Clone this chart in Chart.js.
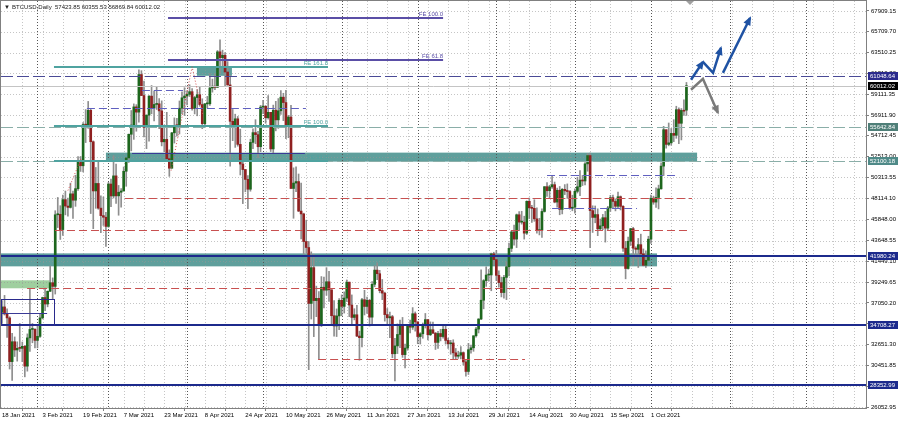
<!DOCTYPE html>
<html>
<head>
<meta charset="utf-8">
<script src="https://cdn.jsdelivr.net/npm/chart.js@4.4.1/dist/chart.umd.min.js"></script>
<style>
  html, body { margin: 0; padding: 0; background: #fff; }
  #wrap { width: 900px; height: 422px; position: relative; }
</style>
</head>
<body>
<div id="wrap"><canvas id="btc"></canvas></div>
<script>
// BTCUSD daily candles, 18 Jan 2021 .. 15 Oct 2021 (one per day)
const opens = [
  36070,36630,35890,35470,30850,32950,32080,32260,32250,32470,30370,33360,34250,34260,
  33090,33520,35470,37620,36940,38290,39190,38800,46370,46420,44810,47970,47290,47150,48580,47910,49130,52120,51550,55910,55840,57410,54090,48890,49680,47070,46280,46110,
  45140,49620,48360,50480,48370,48750,48880,50970,52380,54880,55850,57770,57220,61190,58970,55610,56900,58910,57650,58030,58100,57350,54080,54340,52300,51290,55030,55820,55780,57630,58730,
  58920,59100,59380,57600,58760,59060,58020,56000,58090,58100,59770,59960,59840,63590,62970,63230,61460,60090,56250,55700,56510,53810,51730,51150,50110,49070,54020,55050,54840,53560,
  57750,57830,56630,57200,53330,57420,56400,57360,58800,58230,55860,56700,49150,49720,49880,46760,46460,43540,42910,37000,40780,37300,37540,34770,38710,38400,39290,38440,35700,34620,35680,
  37330,36690,37570,39250,36830,35520,35800,33550,33380,37390,36680,37330,35550,39020,40520,40140,38350,38090,35820,35480,35600,31680,32510,33720,34660,31590,32280,34700,34490,35910,
  35050,33500,33790,34670,35290,33690,34220,33860,32880,33820,33500,34260,33090,32730,32820,31780,31420,31530,31800,30820,29810,32110,32310,33580,34290,35350,37340,39410,40000,40010,42240,
  41630,39970,39200,38150,39750,40870,42820,44560,43800,46370,45590,45590,44430,47790,47100,47050,45940,44690,44740,46720,49340,48910,49320,49550,47710,48960,46940,49060,48900,48830,47050,
  47170,48850,49330,50030,49940,51750,52630,46810,46090,46390,44880,45200,46060,44960,47090,48180,47780,47270,48280,47260,42840,40690,43570,44900,42840,42720,43210,42240,41030,41560,
  43790,48120,47710,48200,49110,51510,55360,53810,53970,54970,54770,57480,56040,57400,57423.85
];
const highs = [
  37300,37850,36420,35600,33830,33460,32940,34880,32920,32560,33780,38530,34880,34340,
  34720,35900,37660,38620,38310,40950,39700,46800,48200,47330,48460,48880,48140,49710,48880,50550,52530,52530,56110,57490,58350,57530,54180,51370,52040,48370,48250,46620,
  49790,50130,52620,51740,49470,49150,51420,52390,54900,57390,58090,58010,61680,61600,60490,56930,58960,60030,59450,59860,58640,58410,55850,57200,53230,55070,56610,56560,58400,59370,59800,
  59460,60110,59700,58900,59590,59900,58630,58150,58880,61260,60710,61260,63730,64860,63770,63520,62560,61100,57500,57000,56760,55410,52130,51170,50510,54360,55440,56420,55190,57930,
  58460,57920,58970,57200,57960,58360,58650,59500,59210,59530,56880,57940,51330,51440,50680,49720,46540,45800,43550,42450,42200,38830,38250,39840,39780,40780,40400,38440,37300,36420,37500,
  37900,38220,39480,39250,37900,36440,36790,34070,37530,38390,37680,37440,39320,41000,41300,40500,39530,38190,36460,36080,35740,33300,34840,35230,35520,32700,34700,35230,36560,36100,
  35050,33910,34930,35940,35300,35050,35020,33930,34060,34260,34590,34650,33340,33100,33160,32240,31950,32430,31880,31030,32780,32590,33580,34480,35390,40550,39520,40870,40590,42320,42410,
  42600,40440,39780,39960,41400,43370,44700,45290,46450,46700,46740,46220,47850,48140,47370,47960,47110,46000,47000,49340,49770,49490,50480,49830,49200,49360,49150,49560,49630,48920,48440,
  49120,50340,51030,50530,51880,52850,52900,47320,47300,47000,45920,46410,46730,47260,48430,48450,48050,48780,48360,47340,43560,44000,44940,45050,42990,43870,44320,42760,42570,44100,
  48440,48340,49230,49500,51850,55720,55360,56070,55490,56420,57840,57680,57600,58520,60355.53
];
const lows = [
  34880,35770,33400,30070,28850,31390,30900,31910,30840,29240,29840,31920,32840,32300,
  32300,33420,35360,36240,36640,38230,37400,37990,45020,43760,44200,46360,46230,47080,45990,47260,48950,50950,50900,54000,55500,46500,44900,47050,46950,44480,45240,43020,
  45040,47230,48140,47560,46320,47170,48880,49380,51900,53120,54340,55200,56160,58970,54600,53360,54150,57040,56280,57500,55480,53650,53030,52310,50430,51290,53950,54690,54910,57040,56870,
  57990,58870,57430,57030,56830,57840,55470,55740,57680,57940,59330,59600,59830,61300,62060,60000,60070,51500,54200,53490,53620,50580,47550,48800,47010,48860,53360,53880,52400,53040,
  57060,56040,56480,53050,52900,55240,55500,56970,56320,54400,54520,49150,46000,48800,46700,43830,42200,42320,30000,35350,33490,35600,31110,34550,36520,37850,37210,34780,33550,33500,34230,
  35700,35980,37200,35600,34800,35260,33480,31000,32400,35780,35940,34600,34790,38760,39510,38120,37400,35130,34830,33380,31260,28800,31700,32330,31300,30180,32050,33880,34250,34070,
  32740,32710,33320,34400,33150,33600,33810,32130,32250,33040,33330,32700,32250,31630,31150,31060,31190,31140,30480,29300,29490,31730,31940,33430,33880,35280,36430,38800,39350,38340,41060,
  39420,38730,37690,37550,37400,39900,42480,43150,42900,44700,45380,43800,44280,45970,45560,45680,44430,44240,43970,46650,48320,48160,49160,47630,47180,46370,46460,48500,48100,46950,46790,
  46530,48670,48400,49460,49520,50970,42900,44500,45520,44160,44760,44790,43480,44750,46720,47070,46780,47050,46880,42500,39600,40630,43120,41020,41700,40800,42180,40970,40800,41450,
  43340,47480,47150,46990,49070,50510,53400,53660,53720,54100,54450,53880,54280,56880,56869.84
];
const closes = [
  36630,35890,35470,30850,32950,32080,32260,32250,32470,30370,33360,34250,34260,33090,
  33520,35470,37620,36940,38290,39190,38800,46370,46420,44810,47970,47290,47150,48580,47910,49130,52120,51550,55910,55840,57410,54090,48890,49680,47070,46280,46110,45140,
  49620,48360,50480,48370,48750,48880,50970,52380,54880,55850,57770,57220,61190,58970,55610,56900,58910,57650,58030,58100,57350,54080,54340,52300,51290,55030,55820,55780,57630,58730,58920,
  59100,59380,57600,58760,59060,58020,56000,58090,58100,59770,59960,59840,63590,62970,63230,61460,60090,56250,55700,56510,53810,51730,51150,50110,49070,54020,55050,54840,53560,57750,
  57830,56630,57200,53330,57420,56400,57360,58800,58230,55860,56700,49150,49720,49880,46760,46460,43540,42910,37000,40780,37300,37540,34770,38710,38400,39290,38440,35700,34620,35680,37330,
  36690,37570,39250,36830,35520,35800,33550,33380,37390,36680,37330,35550,39020,40520,40140,38350,38090,35820,35480,35600,31680,32510,33720,34660,31590,32280,34700,34490,35910,35050,
  33500,33790,34670,35290,33690,34220,33860,32880,33820,33500,34260,33090,32730,32820,31780,31420,31530,31800,30820,29810,32110,32310,33580,34290,35350,37340,39410,40000,40010,42240,41630,
  39970,39200,38150,39750,40870,42820,44560,43800,46370,45590,45590,44430,47790,47100,47050,45940,44690,44740,46720,49340,48910,49320,49550,47710,48960,46940,49060,48900,48830,47050,47170,
  48850,49330,50030,49940,51750,52630,46810,46090,46390,44880,45200,46060,44960,47090,48180,47780,47270,48280,47260,42840,40690,43570,44900,42840,42720,43210,42240,41030,41560,43790,
  48120,47710,48200,49110,51510,55360,53810,53970,54970,54770,57480,56040,57400,57320,60012.02
];

// axis labels
const dateTickDays = [0, 16, 32, 48, 64, 80, 96, 112, 128, 144, 160, 176, 192, 208, 224, 240, 256];
const dateTickLabels = ['18 Jan 2021', '3 Feb 2021', '19 Feb 2021', '7 Mar 2021', '23 Mar 2021', '8 Apr 2021',
  '24 Apr 2021', '10 May 2021', '26 May 2021', '11 Jun 2021', '27 Jun 2021', '13 Jul 2021', '29 Jul 2021',
  '14 Aug 2021', '30 Aug 2021', '15 Sep 2021', '1 Oct 2021'];
const monthStartDays = [14, 42, 73, 103, 134, 164, 195, 226, 256, 287, 317];
const priceTicks = [67909.15, 65709.70, 63510.25, 61310.80, 59111.35, 56911.90, 54712.45, 52513.00, 50313.55,
  48114.10, 45848.00, 43648.55, 41449.10, 39249.65, 37050.20, 34850.75, 32651.30, 30451.85, 28252.40, 26052.95];

// objects drawn on the chart, in (day, price)
const zones = [[76.9, 90.7, 62005, 61056], [41.0, 274.2, 52938, 51989], [-0.8, 258.4, 42290, 40919]];
const greenZone = [-0.8, 18.9, 39443, 38600];
const fullLevels = [
  { price: 61048.64, style: 'navyDash', tag: '#2a2a8c' },
  { price: 60012.02, style: 'bid', tag: '#000000' },
  { price: 55642.84, style: 'tealDash', tag: '#4f7f78' },
  { price: 52100.18, style: 'tealDash', tag: '#4f8a88' },
  { price: 41980.24, style: 'navy', tag: '#1c2a8c' },
  { price: 34708.27, style: 'navy', tag: '#1c2a8c' },
  { price: 28352.99, style: 'navy', tag: '#1c2a8c' }
];
const feLines = [
  { from: 65.5, to: 174.0, price: 67171, text: 'FE 100.0', style: 'purple' },
  { from: 65.5, to: 174.0, price: 62690, text: 'FE 61.8', style: 'purple' },
  { from: 20.5, to: 128.6, price: 62005, text: 'FE 161.8', style: 'teal' },
  { from: 20.5, to: 128.6, price: 55785, text: 'FE 100.0', style: 'teal' },
  { from: 20.5, to: 128.6, price: 52094, text: 'FE 61.8', style: 'teal' }
];
const redLevels = [
  { from: 48.5, to: 272.2, price: 48194 },
  { from: 20.9, to: 270.6, price: 44714 },
  { from: 9.9, to: 264.3, price: 38600 },
  { from: 124.7, to: 206.3, price: 31114 }
];
const blueLevels = [
  { from: 33.5, to: 119.9, price: 57682 },
  { from: 55.2, to: 71.4, price: 59580 },
  { from: 215, to: 265.5, price: 50618 },
  { from: 217, to: 250.5, price: 47034 }
];
const navySegments = [{ from: 51.3, to: 119.5, price: 52938 }, { from: -0.8, to: 17.8, price: 35964 }];
const navyBox = [-0.8, 20.1, 37440, 34708];
const fePaths = [
  [[66.7, 51040], [75.0, 62005], [79.3, 56839]],
  [[26.0, 48932], [31.2, 52306]]
];
const blueArrows = [
  [[271.8, 60634], [276.5, 62532]],
  [[276.5, 62532], [280.5, 61372], [283.6, 64008]],
  [[284.4, 61372], [295.1, 67171]]
];
const grayArrow = [[271.8, 59580], [276.5, 60740], [282.4, 57155]];

const idx = opens.map((_, i) => i);
const bull = idx.map(i => closes[i] >= opens[i]);

const FONT = 'Liberation Sans, Arial, sans-serif';

function hLine(ctx, x1, x2, y, color, width, dash) {
  ctx.beginPath();
  ctx.strokeStyle = color;
  ctx.lineWidth = width;
  ctx.setLineDash(dash || []);
  const yy = Math.round(y) + (width % 2 ? 0.5 : 0);
  ctx.moveTo(x1, yy);
  ctx.lineTo(x2, yy);
  ctx.stroke();
}

function arrowHead(ctx, p0, p1, size, color) {
  const ang = Math.atan2(p1[1] - p0[1], p1[0] - p0[0]);
  ctx.beginPath();
  ctx.fillStyle = color;
  ctx.moveTo(p1[0] + Math.cos(ang) * 2, p1[1] + Math.sin(ang) * 2);
  ctx.lineTo(p1[0] - Math.cos(ang - 0.5) * size, p1[1] - Math.sin(ang - 0.5) * size);
  ctx.lineTo(p1[0] - Math.cos(ang + 0.5) * size, p1[1] - Math.sin(ang + 0.5) * size);
  ctx.closePath();
  ctx.fill();
}

const chartObjects = {
  id: 'chartObjects',
  beforeDatasetsDraw(chart) {
    const { ctx, chartArea: a, scales: { x, y } } = chart;
    ctx.save();
    ctx.beginPath();
    ctx.rect(a.left, a.top, a.right - a.left, a.bottom - a.top);
    ctx.clip();

    const box = (r, color) => {
      const x1 = x.getPixelForValue(r[0]), x2 = x.getPixelForValue(r[1]);
      const y1 = y.getPixelForValue(r[2]), y2 = y.getPixelForValue(r[3]);
      ctx.fillStyle = color;
      ctx.fillRect(x1, y1, x2 - x1, y2 - y1);
    };
    zones.forEach(r => box(r, '#5f9f9c'));
    box(greenZone, '#9fcf9f');

    // grid
    ctx.lineWidth = 1;
    ctx.setLineDash([1, 2]);
    ctx.strokeStyle = 'rgba(150,150,150,0.55)';
    priceTicks.forEach(p => {
      const yy = Math.round(y.getPixelForValue(p)) + 0.5;
      ctx.beginPath(); ctx.moveTo(a.left, yy); ctx.lineTo(a.right, yy); ctx.stroke();
    });
    for (let d = 8; d < 341; d += 8) {
      const xx = Math.round(x.getPixelForValue(d)) + 0.5;
      ctx.beginPath(); ctx.moveTo(xx, a.top); ctx.lineTo(xx, a.bottom); ctx.stroke();
    }
    ctx.strokeStyle = '#555';
    monthStartDays.forEach(d => {
      const xx = Math.round(x.getPixelForValue(d)) + 0.5;
      ctx.beginPath(); ctx.moveTo(xx, a.top); ctx.lineTo(xx, a.bottom); ctx.stroke();
    });
    ctx.restore();
  },
  afterDatasetsDraw(chart) {
    const { ctx, chartArea: a, scales: { x, y } } = chart;
    ctx.save();
    ctx.beginPath();
    ctx.rect(a.left, a.top, a.right - a.left, a.bottom - a.top);
    ctx.clip();

    fullLevels.forEach(l => {
      const yy = y.getPixelForValue(l.price);
      if (l.style === 'navyDash') hLine(ctx, a.left, a.right, yy, '#4a4a96', 1, [12, 4]);
      else if (l.style === 'bid') hLine(ctx, a.left, a.right, yy, '#c4c4c4', 1);
      else if (l.style === 'tealDash') hLine(ctx, a.left, a.right, yy, '#8aaea8', 1, [12, 4]);
      else hLine(ctx, a.left, a.right, yy, '#1c2a8c', 2);
    });
    redLevels.forEach(l => hLine(ctx, x.getPixelForValue(l.from), x.getPixelForValue(l.to), y.getPixelForValue(l.price), '#c85050', 1, [8, 4]));
    blueLevels.forEach(l => hLine(ctx, x.getPixelForValue(l.from), x.getPixelForValue(l.to), y.getPixelForValue(l.price), '#6060c0', 1, [8, 4]));
    navySegments.forEach(l => hLine(ctx, x.getPixelForValue(l.from), x.getPixelForValue(l.to), y.getPixelForValue(l.price), '#3a3a96', 1));

    // small box at the left
    ctx.setLineDash([]);
    ctx.strokeStyle = '#2a2a8c';
    ctx.lineWidth = 1;
    const bx1 = x.getPixelForValue(navyBox[0]), bx2 = x.getPixelForValue(navyBox[1]);
    const by1 = y.getPixelForValue(navyBox[2]), by2 = y.getPixelForValue(navyBox[3]);
    ctx.strokeRect(Math.round(bx1) + 1.5, Math.round(by1) + 0.5, Math.round(bx2 - bx1), Math.round(by2 - by1));

    // fibonacci expansion levels
    ctx.font = '6px ' + FONT;
    ctx.textAlign = 'right';
    ctx.textBaseline = 'bottom';
    feLines.forEach(l => {
      const color = l.style === 'purple' ? '#5a4ea6' : '#4fa3a0';
      const x1 = x.getPixelForValue(l.from), x2 = x.getPixelForValue(l.to), yy = y.getPixelForValue(l.price);
      hLine(ctx, x1, x2, yy, color, 2);
      ctx.fillStyle = color;
      ctx.fillText(l.text, x2, Math.round(yy) - 1);
    });

    // construction lines (dotted red)
    ctx.strokeStyle = '#d25050';
    ctx.lineWidth = 1;
    ctx.setLineDash([1, 2]);
    fePaths.forEach(path => {
      ctx.beginPath();
      path.forEach((p, i) => {
        const px = x.getPixelForValue(p[0]), py = y.getPixelForValue(p[1]);
        if (i) ctx.lineTo(px, py); else ctx.moveTo(px, py);
      });
      ctx.stroke();
    });

    // forecast arrows
    ctx.setLineDash([]);
    const drawArrow = (path, color, width) => {
      const pts = path.map(p => [x.getPixelForValue(p[0]), y.getPixelForValue(p[1])]);
      ctx.beginPath();
      ctx.strokeStyle = color;
      ctx.lineWidth = width;
      ctx.lineJoin = 'miter';
      pts.forEach((p, i) => { if (i) ctx.lineTo(p[0], p[1]); else ctx.moveTo(p[0], p[1]); });
      ctx.stroke();
      arrowHead(ctx, pts[pts.length - 2], pts[pts.length - 1], 8, color);
    };
    blueArrows.forEach(p => drawArrow(p, '#1f52a3', 2.5));
    drawArrow(grayArrow, '#7a7a7a', 2.5);
    ctx.restore();
  },
  afterDraw(chart) {
    const { ctx, chartArea: a, scales: { x, y } } = chart;
    ctx.save();
    // frame
    ctx.strokeStyle = '#808080';
    ctx.lineWidth = 1;
    ctx.setLineDash([]);
    ctx.strokeRect(a.left - 0.5, a.top - 0.5, a.right - a.left + 1, a.bottom - a.top + 1);

    // price tags on the right axis
    ctx.font = '6px ' + FONT;
    ctx.textAlign = 'left';
    ctx.textBaseline = 'middle';
    fullLevels.forEach(l => {
      const yy = Math.round(y.getPixelForValue(l.price));
      ctx.fillStyle = l.tag;
      ctx.fillRect(a.right + 2, yy - 4, 30, 8);
      ctx.fillStyle = '#ffffff';
      ctx.fillText(l.price.toFixed(2), a.right + 4, yy + 0.5);
    });

    // chart shift marker
    ctx.fillStyle = '#a0a0a0';
    const sx = x.getPixelForValue(271.4);
    ctx.beginPath();
    ctx.moveTo(sx - 4, a.top); ctx.lineTo(sx + 4, a.top); ctx.lineTo(sx, a.top + 4); ctx.closePath();
    ctx.fill();

    // header
    const last = opens.length - 1;
    ctx.fillStyle = '#202020';
    ctx.textBaseline = 'middle';
    ctx.fillText('▼', a.left + 3, a.top + 6);
    ctx.fillText('BTCUSD,Daily  ' + [opens[last], highs[last], lows[last], closes[last]].map(v => v.toFixed(2)).join(' '),
      a.left + 11, a.top + 6);
    ctx.restore();
  }
};

new Chart(document.getElementById('btc'), {
  type: 'bar',
  data: {
    datasets: [
      {
        label: 'body',
        data: idx.map(i => ({ x: i, y: [opens[i], closes[i]] })),
        backgroundColor: idx.map(i => bull[i] ? '#1d661d' : '#8f2020'),
        borderWidth: 0,
        barThickness: 2,
        minBarLength: 1,
        grouped: false
      },
      {
        label: 'range',
        data: idx.map(i => ({ x: i, y: [lows[i], highs[i]] })),
        backgroundColor: '#8e8e8e',
        borderWidth: 0,
        barThickness: 1,
        grouped: false
      }
    ]
  },
  options: {
    responsive: true,
    maintainAspectRatio: false,
    devicePixelRatio: 1,
    animation: false,
    layout: { padding: { left: 1, top: 1, right: 0, bottom: 0 } },
    plugins: { legend: { display: false }, tooltip: { enabled: false } },
    scales: {
      x: {
        type: 'linear',
        min: -0.394,
        max: 340.83,
        offset: false,
        afterBuildTicks: s => { s.ticks = dateTickDays.map(v => ({ value: v })); },
        afterFit: s => { s.height = 14; s.paddingLeft = 0; s.paddingRight = 0; },
        ticks: {
          autoSkip: false, maxRotation: 0, align: 'start', padding: 1,
          font: { family: FONT, size: 6 }, color: '#000',
          callback: v => dateTickLabels[dateTickDays.indexOf(v)] || ''
        },
        grid: { drawOnChartArea: false, drawTicks: true, tickLength: 3, color: '#808080' },
        border: { display: true, color: '#808080' }
      },
      y: {
        position: 'right',
        min: 25947.5,
        max: 68963.5,
        afterBuildTicks: s => { s.ticks = priceTicks.map(v => ({ value: v })); },
        afterFit: s => { s.width = 34; s.paddingTop = 0; s.paddingBottom = 0; },
        ticks: {
          padding: 2, crossAlign: 'near',
          font: { family: FONT, size: 6 }, color: '#000',
          callback: v => v.toFixed(2)
        },
        grid: { drawOnChartArea: false, drawTicks: true, tickLength: 3, color: '#808080' },
        border: { display: true, color: '#808080' }
      }
    }
  },
  plugins: [chartObjects]
});
</script>
</body>
</html>
